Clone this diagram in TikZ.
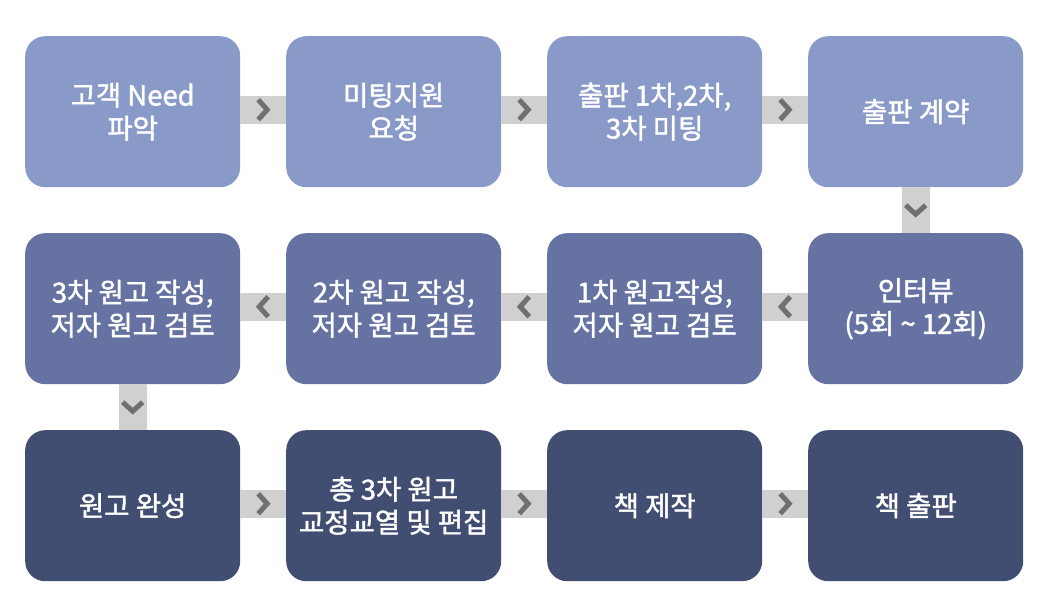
\documentclass[tikz,border=0pt]{standalone}
\usepackage{fontspec}
\newfontfamily\kr[FakeBold=1.6]{Noto Sans CJK KR}
\usetikzlibrary{calc}
\definecolor{rowA}{HTML}{8A9AC8}
\definecolor{rowB}{HTML}{6673A2}
\definecolor{rowC}{HTML}{424D72}
\definecolor{barc}{HTML}{D0D0D0}
\definecolor{chevc}{HTML}{707070}
\tikzset{
  stepbox/.style={rounded corners=20pt, minimum width=215pt, minimum height=151pt, inner sep=0pt,
    text=white, align=center, font=\kr\fontsize{27.5}{33}\selectfont, anchor=north west},
  boxA/.style={stepbox, fill=rowA},
  boxB/.style={stepbox, fill=rowB},
  boxC/.style={stepbox, fill=rowC},
  barfill/.style={fill=barc},
  chev/.style={draw=chevc, line width=5pt, line join=miter, line cap=butt},
}
\begin{document}
\begin{tikzpicture}[x=1pt,y=-1pt]
\useasboundingbox (0,0) rectangle (1041,609);
% row 1
\node[boxA] (a1) at (25,36) {고객 Need\\파악};
\node[boxA] (a2) at (286,36) {미팅지원\\요청};
\node[boxA] (a3) at (547,36) {출판 1차,2차,\\3차 미팅};
\node[boxA] (a4) at (808,36) {출판 계약};
% row 2
\node[boxB] (b1) at (25,233) {3차 원고 작성,\\저자 원고 검토};
\node[boxB] (b2) at (286,233) {2차 원고 작성,\\저자 원고 검토};
\node[boxB] (b3) at (547,233) {1차 원고작성,\\저자 원고 검토};
\node[boxB] (b4) at (808,233) {인터뷰\\(5회 \textasciitilde{} 12회)};
% row 3
\node[boxC] (c1) at (25,430) {원고 완성};
\node[boxC] (c2) at (286,430) {총 3차 원고\\교정교열 및 편집};
\node[boxC] (c3) at (547,430) {책 제작};
\node[boxC] (c4) at (808,430) {책 출판};
% horizontal right connectors
\foreach \u/\v in {a1/a2,a2/a3,a3/a4,c1/c2,c2/c3,c3/c4}{
  \fill[barfill] ($(\u.east)+(0,-16)$) rectangle ($(\v.west)+(0,12)$);
  \draw[chev] ($(\u.east)!0.5!(\v.west)+(-5,-12)$) -- ++(9,10) -- ++(-9,10);
}
% horizontal left connectors
\foreach \u/\v in {b4/b3,b3/b2,b2/b1}{
  \fill[barfill] ($(\u.west)+(0,-16)$) rectangle ($(\v.east)+(0,12)$);
  \draw[chev] ($(\u.west)!0.5!(\v.east)+(5,-12)$) -- ++(-9,10) -- ++(9,10);
}
% vertical connectors
\foreach \u/\v in {a4/b4,b1/c1}{
  \fill[barfill] ($(\u.south)+(-14,0)$) rectangle ($(\v.north)+(14,0)$);
  \draw[chev] ($(\u.south)!0.5!(\v.north)+(-10,-5)$) -- ++(10,9) -- ++(10,-9);
}
\end{tikzpicture}
\end{document}
